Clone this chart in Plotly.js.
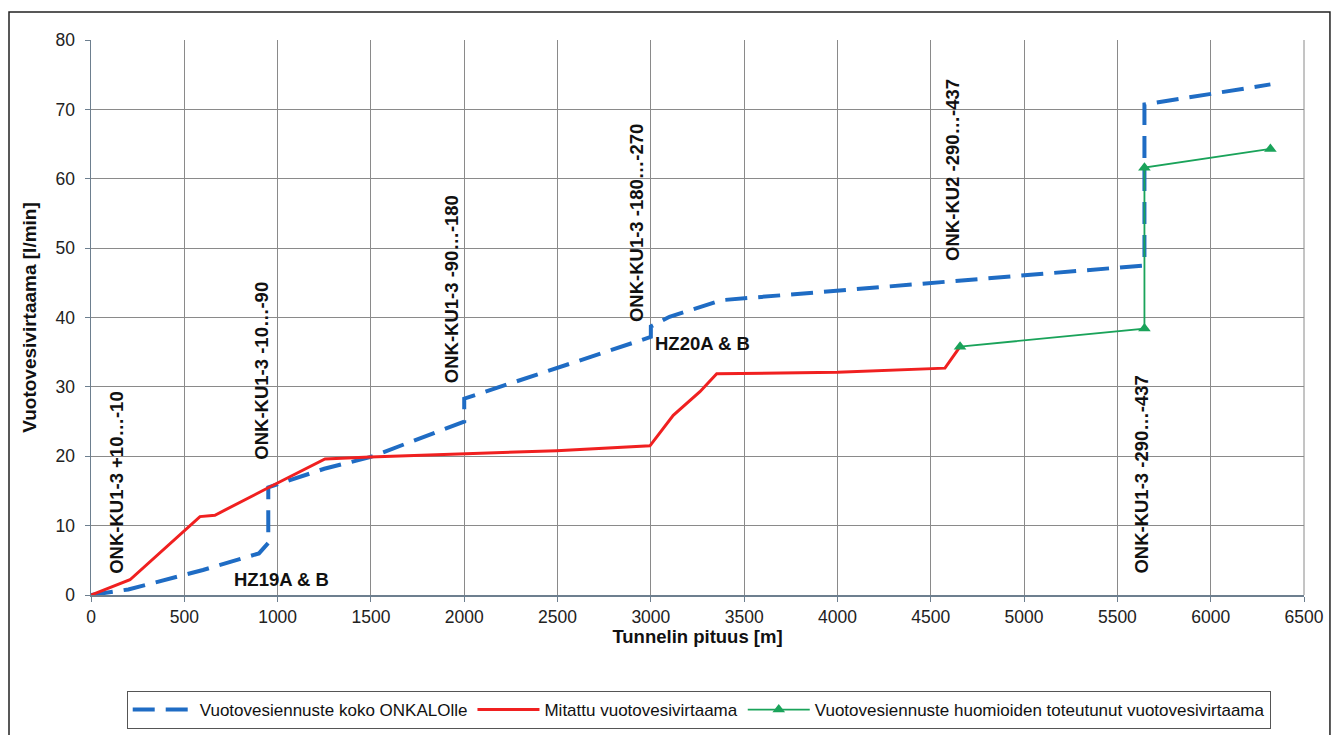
<!DOCTYPE html>
<html>
<head>
<meta charset="utf-8">
<script src="https://cdn.plot.ly/plotly-3.0.1.min.js"></script>
<style>
html,body{margin:0;padding:0;background:#fff;}
#chart{width:1334px;height:735px;}
</style>
</head>
<body>
<div id="chart"></div>
<script>
// Forecast for the whole ONKALO (blue dashed)
const forecastX = [0, 200, 600, 900, 950, 950, 1250, 1500, 2000, 2000, 3000, 3000, 3100, 3380, 5645, 5645, 6320];
const forecastY = [0, 0.8, 3.6, 6.0, 7.5, 15.5, 18.2, 19.9, 25.0, 28.3, 37.2, 38.7, 40.1, 42.5, 47.5, 70.7, 73.6];

// Measured leakage (red)
const measuredX = [0, 209, 584, 664, 960, 1254, 1495, 2495, 2995, 3120, 3263, 3353, 4000, 4576, 4657];
const measuredY = [0, 2.2, 11.3, 11.5, 15.6, 19.6, 19.9, 20.8, 21.5, 25.9, 29.3, 31.9, 32.1, 32.7, 35.8];

// Forecast accounting for realised leakage (green)
const adjustedX = [4657, 5645, 5645, 6320];
const adjustedY = [35.8, 38.4, 61.6, 64.3];

// Zone labels
const zoneLabels = ["ONK-KU1-3 +10…-10", "ONK-KU1-3 -10…-90", "ONK-KU1-3 -90…-180",
                    "ONK-KU1-3 -180…-270", "ONK-KU2 -290…-437", "ONK-KU1-3 -290…-437"];
const zoneX = [135, 915, 1930, 2920, 4620, 5630];
const zoneY = [16.2, 32.3, 44.1, 53.6, 61.3, 17.3];
const hzLabels = ["HZ19A & B", "HZ20A & B"];
const hzX = [1020, 3275];
const hzY = [2.3, 36.3];

const legendNames = ["Vuotovesiennuste koko ONKALOlle", "Mitattu vuotovesivirtaama",
                     "Vuotovesiennuste huomioiden toteutunut vuotovesivirtaama"];

const FONT = "Liberation Sans, Arial, sans-serif";

const traces = [
  {x: forecastX, y: forecastY, mode: 'lines', name: legendNames[0],
   line: {color: '#1f6cc4', width: 4, dash: '22px,11px'}},
  {x: measuredX, y: measuredY, mode: 'lines', name: legendNames[1],
   line: {color: '#f02020', width: 3}},
  {x: adjustedX, y: adjustedY, mode: 'lines+markers', name: legendNames[2],
   line: {color: '#1aa35a', width: 1.8},
   marker: {symbol: 'triangle-up', size: 11, color: '#1aa35a'}}
];

const annotations = [];
for (let i = 0; i < zoneLabels.length; i++) {
  annotations.push({x: zoneX[i], y: zoneY[i], xref: 'x', yref: 'y', text: '<b>' + zoneLabels[i] + '</b>',
    showarrow: false, textangle: -90, font: {family: FONT, size: 18.5, color: '#111'}});
}
for (let i = 0; i < hzLabels.length; i++) {
  annotations.push({x: hzX[i], y: hzY[i], xref: 'x', yref: 'y', text: '<b>' + hzLabels[i] + '</b>',
    showarrow: false, font: {family: FONT, size: 18.5, color: '#111'}});
}

const layout = {
  width: 1334, height: 735,
  margin: {l: 91, r: 30, t: 40, b: 140, autoexpand: false},
  paper_bgcolor: '#fff', plot_bgcolor: '#fff',
  font: {family: FONT, color: '#222'},
  showlegend: true,
  legend: {orientation: 'h', x: 0.501, xanchor: 'center', y: -0.173, yanchor: 'top',
    bordercolor: '#555', borderwidth: 1, font: {family: FONT, size: 17, color: '#111'},
    itemwidth: 62, tracegroupgap: 0},
  xaxis: {range: [0, 6500], dtick: 500, tick0: 0, showgrid: true, gridcolor: '#8a8a8a', gridwidth: 1,
    showline: true, linecolor: '#6d7f8f', linewidth: 1.5, ticks: 'outside', ticklen: 5, tickcolor: '#6d7f8f',
    zeroline: false, tickfont: {family: FONT, size: 17.5, color: '#222'}, automargin: false,
    title: {text: '<b>Tunnelin pituus [m]</b>', font: {family: FONT, size: 18.5, color: '#111'}, standoff: 1}},
  yaxis: {range: [0, 80], dtick: 10, tick0: 0, showgrid: true, gridcolor: '#8a8a8a', gridwidth: 1,
    showline: true, linecolor: '#6d7f8f', linewidth: 1.5, ticks: 'outside', ticklen: 5, tickcolor: '#6d7f8f',
    zeroline: false, tickfont: {family: FONT, size: 17.5, color: '#222'}, ticklabelstandoff: 6, automargin: false,
    title: {text: '<b>Vuotovesivirtaama [l/min]</b>', font: {family: FONT, size: 19, color: '#111'}, standoff: 14}},
  annotations: annotations,
  shapes: [
    {type: 'line', xref: 'paper', yref: 'paper', x0: 1, x1: 1, y0: 0, y1: 1, line: {color: '#8a8a8a', width: 1}},
    {type: 'rect', xref: 'paper', yref: 'paper', x0: -0.0676, x1: 1.0214, y0: -0.27, y1: 1.0505,
     line: {color: '#222', width: 1.5}, fillcolor: 'rgba(0,0,0,0)'}
  ]
};

Plotly.newPlot('chart', traces, layout, {displayModeBar: false, staticPlot: true});
</script>
</body>
</html>
